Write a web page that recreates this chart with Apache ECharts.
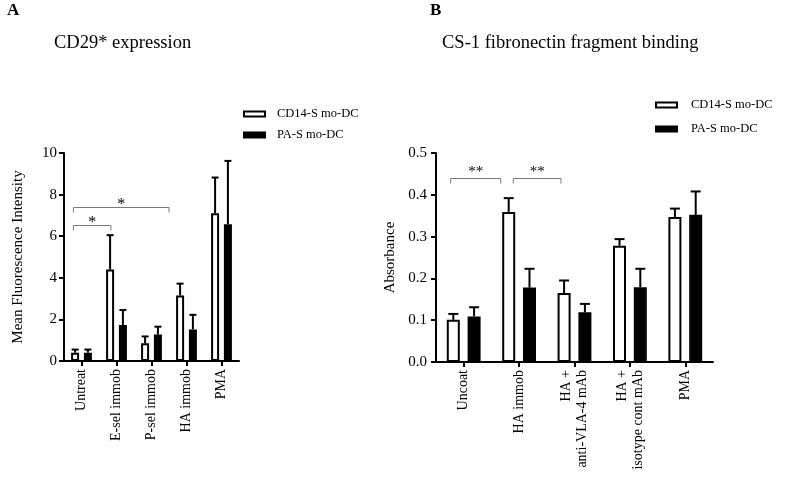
<!DOCTYPE html>
<html><head><meta charset="utf-8">
<script src="https://cdn.jsdelivr.net/npm/echarts@6/dist/echarts.min.js"></script>
<style>html,body{margin:0;padding:0;background:#fff}#c{width:800px;height:478px}</style>
</head><body><div id="c"></div>
<script>
// ---------- Panel A data ----------
const catsA = ['Untreat', 'E-sel immob', 'P-sel immob', 'HA immob', 'PMA'];
const cd14A = [0.4, 4.4, 0.85, 3.15, 7.1];
const cd14AErr = [0.55, 6.05, 1.18, 3.72, 8.82];
const pasA = [0.4, 1.73, 1.27, 1.52, 6.58];
const pasAErr = [0.55, 2.45, 1.65, 2.22, 9.62];
const ticksA = ['0', '2', '4', '6', '8', '10'];
// brackets: [from (category units), to (category units), level, label]
const bracketsA = [[-0.23, 0.84, 6.55, '*'], [-0.23, 2.5, 7.4, '*']];

// ---------- Panel B data ----------
const catsB = ['Uncoat', 'HA immob', 'HA +\nanti-VLA-4 mAb', 'HA +\nisotype cont mAb', 'PMA'];
const cd14B = [0.101, 0.359, 0.165, 0.278, 0.347];
const cd14BErr = [0.115, 0.392, 0.195, 0.294, 0.367];
const pasB = [0.109, 0.178, 0.119, 0.179, 0.352];
const pasBErr = [0.131, 0.223, 0.139, 0.223, 0.408];
const ticksB = ['0.0', '0.1', '0.2', '0.3', '0.4', '0.5'];
const bracketsB = [[-0.235, 0.668, 0.44, '**'], [0.895, 1.756, 0.44, '**']];

const seriesNames = ['CD14-S mo-DC', 'PA-S mo-DC'];

const FONT = '"Liberation Serif", "Times New Roman", serif';
const whiteStyle = {color: '#fff', borderColor: '#000', borderWidth: 2};
const blackStyle = {color: '#000', borderColor: '#000', borderWidth: 2};

function errSeries(ai, vals, errs, side, barW, gap, cap) {
  return {
    type: 'custom', xAxisIndex: ai, yAxisIndex: ai, z: 5, silent: true,
    encode: {x: 0, y: [1, 2]},
    data: vals.map((v, i) => [i, v, errs[i]]),
    renderItem(params, api) {
      const c = api.coord([api.value(0), api.value(1)]);
      const t = api.coord([api.value(0), api.value(2)]);
      const x = c[0] + side * barW * (1 + gap) / 2;
      return {type: 'group', children: [
        {type: 'line', shape: {x1: x, y1: c[1], x2: x, y2: t[1]}, style: {stroke: '#000', lineWidth: 2}},
        {type: 'line', shape: {x1: x - cap, y1: t[1], x2: x + cap, y2: t[1]}, style: {stroke: '#000', lineWidth: 2}}
      ]};
    }
  };
}

function bracketSeries(ai, brackets, starFont, starOff) {
  return {
    type: 'custom', xAxisIndex: ai, yAxisIndex: ai, z: 6, silent: true,
    encode: {x: 0, y: 1},
    data: brackets.map(b => [0, b[2]]),
    renderItem(params, api) {
      const b = brackets[params.dataIndex];
      const bw = api.size([1, 0])[0];
      const p = api.coord([0, b[2]]);
      const x1 = p[0] + b[0] * bw, x2 = p[0] + b[1] * bw, y = Math.round(p[1]) + 0.5;
      return {type: 'group', children: [
        {type: 'polyline', shape: {points: [[x1, y + 5], [x1, y], [x2, y], [x2, y + 5]]},
          style: {stroke: '#777', lineWidth: 1, fill: null}},
        {type: 'text', x: (x1 + x2) / 2, y: y - starOff,
          style: {text: b[3], font: starFont, fill: '#000', align: 'center', verticalAlign: 'middle'}}
      ]};
    }
  };
}

function barSeries(ai, name, vals, style, barW) {
  return {type: 'bar', name: name, xAxisIndex: ai, yAxisIndex: ai, data: vals,
    barWidth: barW, barGap: '60%', itemStyle: style, silent: true};
}

const BW_A = 8, BW_B = 13, GAP = 0.6;

const axisLine = {show: true, lineStyle: {color: '#000', width: 2}};
const axisTick = {show: true, length: 5, lineStyle: {color: '#000', width: 2}};

const option = {
  animation: false,
  backgroundColor: '#fff',
  textStyle: {fontFamily: FONT},
  title: [
    {text: 'A', left: 7, top: 2, padding: 0, textStyle: {fontFamily: FONT, fontSize: 17, fontWeight: 'bold', color: '#000'}},
    {text: 'CD29* expression', left: 54, top: 34, padding: 0, textStyle: {fontFamily: FONT, fontSize: 18.5, fontWeight: 'normal', color: '#000'}},
    {text: 'B', left: 430, top: 2, padding: 0, textStyle: {fontFamily: FONT, fontSize: 17, fontWeight: 'bold', color: '#000'}},
    {text: 'CS-1 fibronectin fragment binding', left: 442, top: 34, padding: 0, textStyle: {fontFamily: FONT, fontSize: 18.5, fontWeight: 'normal', color: '#000'}}
  ],
  legend: [
    {orient: 'vertical', left: 243, top: 107, padding: 0, itemGap: 7, itemWidth: 21, itemHeight: 5, icon: 'rect',
      selectedMode: false,
      textStyle: {fontFamily: FONT, fontSize: 12.5, color: '#000', lineHeight: 14, padding: [0, 0, 0, 7]},
      data: [{name: seriesNames[0], itemStyle: whiteStyle}, {name: seriesNames[1], itemStyle: blackStyle}]},
    {orient: 'vertical', left: 655, top: 98, padding: 0, itemGap: 10, itemWidth: 21, itemHeight: 5, icon: 'rect',
      selectedMode: false,
      textStyle: {fontFamily: FONT, fontSize: 12.5, color: '#000', lineHeight: 14, padding: [0, 0, 0, 9]},
      data: [{name: seriesNames[0], itemStyle: whiteStyle}, {name: seriesNames[1], itemStyle: blackStyle}]}
  ],
  grid: [
    {left: 64, top: 153, width: 175, height: 208, outerBoundsMode: 'none', containLabel: false},
    {left: 436, top: 153, width: 277, height: 209, outerBoundsMode: 'none', containLabel: false}
  ],
  xAxis: [
    {type: 'category', gridIndex: 0, data: catsA, axisLine: axisLine, axisTick: Object.assign({alignWithLabel: true}, axisTick),
      splitLine: {show: false},
      axisLabel: {rotate: 90, margin: 8, interval: 0, fontFamily: FONT, fontSize: 14, color: '#000'}},
    {type: 'category', gridIndex: 1, data: catsB, axisLine: axisLine, axisTick: Object.assign({alignWithLabel: true}, axisTick),
      splitLine: {show: false},
      axisLabel: {rotate: 90, margin: 8, interval: 0, fontFamily: FONT, fontSize: 14, lineHeight: 16, color: '#000'}}
  ],
  yAxis: [
    {type: 'value', gridIndex: 0, min: 0, max: 10, interval: 2, axisLine: axisLine, axisTick: axisTick,
      splitLine: {show: false},
      axisLabel: {margin: 7, fontFamily: FONT, fontSize: 15, color: '#000', formatter: v => ticksA[Math.round(v / 2)]},
      name: 'Mean Fluorescence Intensity', nameLocation: 'middle', nameGap: 38,
      nameTextStyle: {fontFamily: FONT, fontSize: 15, color: '#000'}},
    {type: 'value', gridIndex: 1, min: 0, max: 0.5, interval: 0.1, axisLine: axisLine, axisTick: axisTick,
      splitLine: {show: false},
      axisLabel: {margin: 9, fontFamily: FONT, fontSize: 15, color: '#000', formatter: v => ticksB[Math.round(v * 10)]},
      name: 'Absorbance', nameLocation: 'middle', nameGap: 38,
      nameTextStyle: {fontFamily: FONT, fontSize: 15, color: '#000'}}
  ],
  series: [
    barSeries(0, seriesNames[0], cd14A, whiteStyle, BW_A),
    barSeries(0, seriesNames[1], pasA, blackStyle, BW_A),
    errSeries(0, cd14A, cd14AErr, -1, BW_A, GAP, 3.5),
    errSeries(0, pasA, pasAErr, 1, BW_A, GAP, 3.5),
    bracketSeries(0, bracketsA, '16px ' + FONT, 3),
    barSeries(1, seriesNames[0], cd14B, whiteStyle, BW_B),
    barSeries(1, seriesNames[1], pasB, blackStyle, BW_B),
    errSeries(1, cd14B, cd14BErr, -1, BW_B, GAP, 5),
    errSeries(1, pasB, pasBErr, 1, BW_B, GAP, 5),
    bracketSeries(1, bracketsB, '15px ' + FONT, 6)
  ]
};

const chart = echarts.init(document.getElementById('c'), null, {renderer: 'canvas'});
chart.setOption(option);
</script>
</body></html>
